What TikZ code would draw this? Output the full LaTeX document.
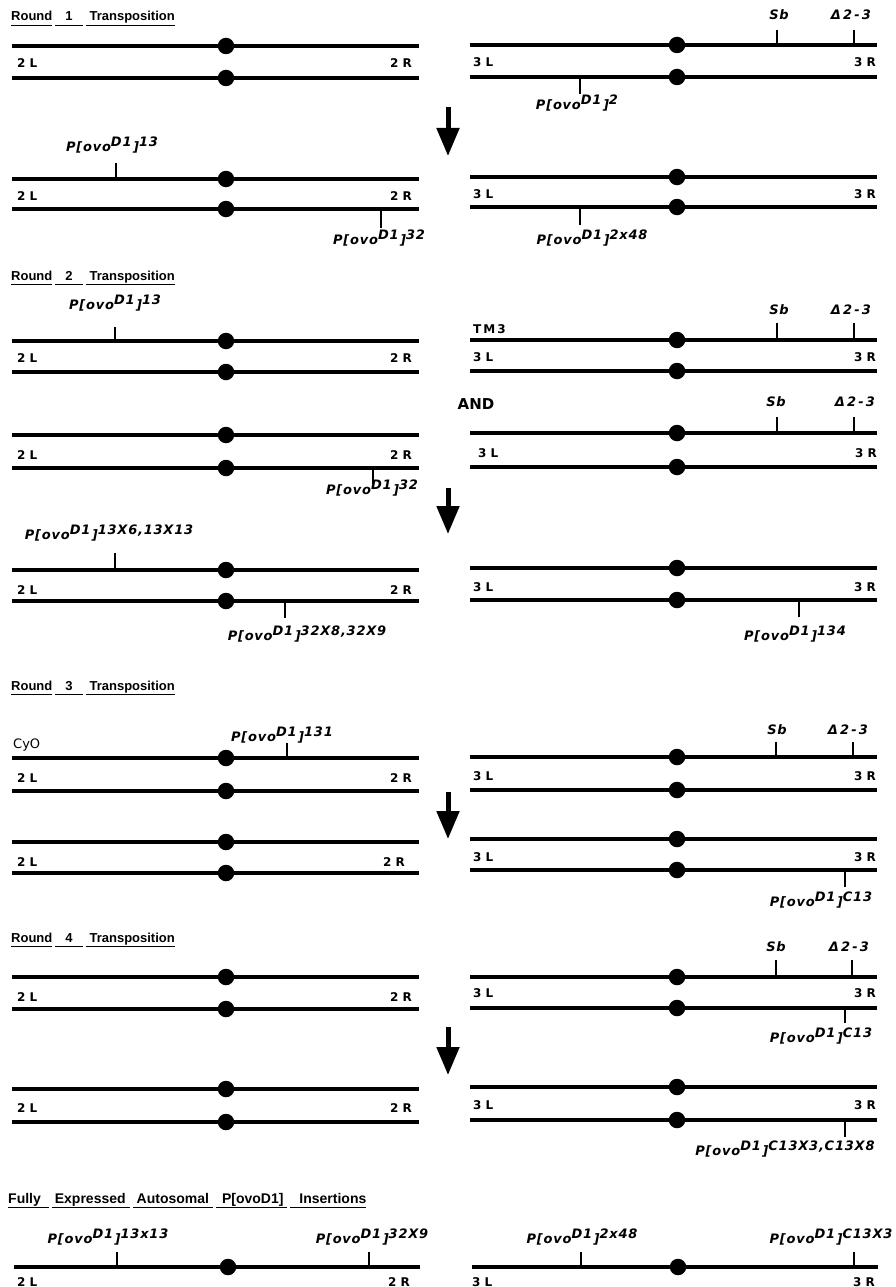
\documentclass[tikz,border=0pt]{standalone}
\usepackage{fontspec}
\usetikzlibrary{arrows.meta}
\newfontfamily\labfont[LetterSpace=6]{DejaVu Sans}
\newfontfamily\chfont{DejaVu Sans}
\newfontfamily\hdfont{Liberation Sans}
\newcommand\pov[1]{P[ovo\raisebox{5pt}{D1}\hspace{1.5pt}]\raisebox{5pt}{#1}}
\newcommand\ul[1]{\underline{\vphantom{Tp}#1}}
\newcommand\chrom[5]{%
  \coordinate (#1-l) at (#2,#5);
  \coordinate (#1-r) at (#3,#5);
  \draw[chr] (#1-l) -- (#1-r);
  \node[cen] (#1-c) at (#4,#5) {};}
\newcommand\mkr[3]{\draw[tk] (#1,#2) -- (#1,#3);}
\tikzset{
  chr/.style={line width=3.1pt},
  cen/.style={circle, fill=black, inner sep=0pt, minimum size=16.5pt},
  tk/.style={line width=2.5pt},
  arm/.style={line width=5pt, -{Triangle[length=28pt,width=22pt]}},
  lab/.style={font=\labfont\fontsize{13}{13}\selectfont\bfseries\itshape, inner sep=0pt},
  gl/.style={font=\chfont\fontsize{12}{12}\selectfont\bfseries, inner sep=0pt},
  hd/.style={font=\hdfont\fontsize{13}{13}\selectfont\bfseries, inner sep=0pt, anchor=base west},
}
\begin{document}
\begin{tikzpicture}[x=1pt,y=-1pt]
\useasboundingbox[fill=white] (0,0) rectangle (895,1287);

% ---------------- Round 1 ----------------
\node[hd] (h1) at (11,21) {\ul{Round}\hspace{3pt}\ul{\hspace{10pt}1\hspace{10pt}}\hspace{3pt}\ul{\hspace{4pt}Transposition}};
\chrom{a1t}{12}{419}{226}{46}
\chrom{a1b}{12}{419}{226}{78}
\node[gl,anchor=west] (a1L) at (17,63) {2 L};
\node[gl,anchor=east] (a1R) at (412,63) {2 R};
\chrom{b1t}{470}{877}{677}{45}
\chrom{b1b}{470}{877}{677}{77}
\node[gl,anchor=west] (b1L) at (473,62) {3 L};
\node[gl,anchor=east] (b1R) at (876,62) {3 R};
\mkr{777}{30}{45}
\mkr{854}{30}{45}
\node[lab] (sb1) at (779,15) {Sb};
\node[lab] (dl1) at (851,15) {Δ\,2\,-\,3};
\mkr{580}{77}{94}
\node[lab,anchor=base] (p1a) at (577,110) {\pov{2}};
\coordinate (ar1s) at (448,107);
\coordinate (ar1e) at (448,156);
\draw[arm] (ar1s) -- (ar1e);

\chrom{a2t}{12}{419}{226}{179}
\chrom{a2b}{12}{419}{226}{209}
\node[gl,anchor=west] (a2L) at (17,196) {2 L};
\node[gl,anchor=east] (a2R) at (412,196) {2 R};
\mkr{116}{163}{179}
\node[lab,anchor=base] (p1b) at (112,151) {\pov{13}};
\mkr{381}{209}{228}
\node[lab,anchor=base] (p1c) at (379,244) {\pov{32}};
\chrom{b2t}{470}{877}{677}{177}
\chrom{b2b}{470}{877}{677}{207}
\node[gl,anchor=west] (b2L) at (473,194) {3 L};
\node[gl,anchor=east] (b2R) at (876,194) {3 R};
\mkr{580}{207}{225}
\node[lab,anchor=base] (p1d) at (592,244) {\pov{2x48}};

% ---------------- Round 2 ----------------
\node[hd] (h2) at (11,280) {\ul{Round}\hspace{3pt}\ul{\hspace{10pt}2\hspace{10pt}}\hspace{3pt}\ul{\hspace{4pt}Transposition}};
\chrom{a3t}{12}{419}{226}{341}
\chrom{a3b}{12}{419}{226}{372}
\node[gl,anchor=west] (a3L) at (17,358) {2 L};
\node[gl,anchor=east] (a3R) at (412,358) {2 R};
\mkr{115}{327}{341}
\node[lab,anchor=base] (p2a) at (115,309) {\pov{13}};
\node[gl,anchor=west] (tm3) at (473,329) {T\,M\,3};
\chrom{b3t}{470}{877}{677}{340}
\chrom{b3b}{470}{877}{677}{371}
\node[gl,anchor=west] (b3L) at (473,357) {3 L};
\node[gl,anchor=east] (b3R) at (876,357) {3 R};
\mkr{777}{323}{340}
\mkr{854}{323}{340}
\node[lab] (sb2) at (779,310) {Sb};
\node[lab] (dl2) at (851,310) {Δ\,2\,-\,3};

\node[font=\chfont\fontsize{15}{15}\selectfont\bfseries, inner sep=0pt] (and) at (476,404) {AND};

\chrom{a4t}{12}{419}{226}{435}
\chrom{a4b}{12}{419}{226}{468}
\node[gl,anchor=west] (a4L) at (17,455) {2 L};
\node[gl,anchor=east] (a4R) at (412,455) {2 R};
\mkr{373}{468}{484}
\node[lab,anchor=base] (p2b) at (372,494) {\pov{32}};
\chrom{b4t}{470}{877}{677}{433}
\chrom{b4b}{470}{877}{677}{467}
\node[gl,anchor=west] (b4L) at (478,453) {3 L};
\node[gl,anchor=east] (b4R) at (877,453) {3 R};
\mkr{777}{417}{433}
\mkr{854}{417}{433}
\node[lab] (sb3) at (776,402) {Sb};
\node[lab] (dl3) at (855,402) {Δ\,2\,-\,3};
\coordinate (ar2s) at (448,488);
\coordinate (ar2e) at (448,534);
\draw[arm] (ar2s) -- (ar2e);

\chrom{a5t}{12}{419}{226}{570}
\chrom{a5b}{12}{419}{226}{601}
\node[gl,anchor=west] (a5L) at (17,590) {2 L};
\node[gl,anchor=east] (a5R) at (412,590) {2 R};
\mkr{115}{553}{570}
\node[lab,anchor=base] (p2c) at (109,539) {\pov{13X6,13X13}};
\mkr{285}{601}{618}
\node[lab,anchor=base] (p2d) at (307,640) {\pov{32X8,32X9}};
\chrom{b5t}{470}{877}{677}{568}
\chrom{b5b}{470}{877}{677}{600}
\node[gl,anchor=west] (b5L) at (473,587) {3 L};
\node[gl,anchor=east] (b5R) at (876,587) {3 R};
\mkr{799}{600}{617}
\node[lab,anchor=base] (p2e) at (795,640) {\pov{134}};

% ---------------- Round 3 ----------------
\node[hd] (h3) at (11,690) {\ul{Round}\hspace{3pt}\ul{\hspace{10pt}3\hspace{10pt}}\hspace{3pt}\ul{\hspace{4pt}Transposition}};
\node[font=\chfont\fontsize{13}{13}\selectfont, inner sep=0pt, anchor=west] (cyo) at (13,745) {CyO};
\chrom{a6t}{12}{419}{226}{758}
\chrom{a6b}{12}{419}{226}{791}
\node[gl,anchor=west] (a6L) at (17,778) {2 L};
\node[gl,anchor=east] (a6R) at (412,778) {2 R};
\mkr{287}{743}{758}
\node[lab,anchor=base] (p3a) at (282,741) {\pov{131}};
\chrom{b6t}{470}{877}{677}{757}
\chrom{b6b}{470}{877}{677}{790}
\node[gl,anchor=west] (b6L) at (473,776) {3 L};
\node[gl,anchor=east] (b6R) at (876,776) {3 R};
\mkr{776}{742}{757}
\mkr{853}{742}{757}
\node[lab] (sb4) at (777,730) {Sb};
\node[lab] (dl4) at (848,730) {Δ\,2\,-\,3};
\coordinate (ar3s) at (448,792);
\coordinate (ar3e) at (448,839);
\draw[arm] (ar3s) -- (ar3e);

\chrom{a7t}{12}{419}{226}{842}
\chrom{a7b}{12}{419}{226}{873}
\node[gl,anchor=west] (a7L) at (17,862) {2 L};
\node[gl,anchor=east] (a7R) at (405,862) {2 R};
\chrom{b7t}{470}{877}{677}{839}
\chrom{b7b}{470}{877}{677}{870}
\node[gl,anchor=west] (b7L) at (473,857) {3 L};
\node[gl,anchor=east] (b7R) at (876,857) {3 R};
\mkr{845}{870}{887}
\node[lab,anchor=base] (p3b) at (821,906) {\pov{C13}};

% ---------------- Round 4 ----------------
\node[hd] (h4) at (11,942) {\ul{Round}\hspace{3pt}\ul{\hspace{10pt}4\hspace{10pt}}\hspace{3pt}\ul{\hspace{4pt}Transposition}};
\chrom{a8t}{12}{419}{226}{977}
\chrom{a8b}{12}{419}{226}{1009}
\node[gl,anchor=west] (a8L) at (17,997) {2 L};
\node[gl,anchor=east] (a8R) at (412,997) {2 R};
\chrom{b8t}{470}{877}{677}{977}
\chrom{b8b}{470}{877}{677}{1008}
\node[gl,anchor=west] (b8L) at (473,993) {3 L};
\node[gl,anchor=east] (b8R) at (876,993) {3 R};
\mkr{776}{960}{977}
\mkr{852}{960}{977}
\node[lab] (sb5) at (776,947) {Sb};
\node[lab] (dl5) at (849,947) {Δ\,2\,-\,3};
\mkr{845}{1008}{1023}
\node[lab,anchor=base] (p4a) at (821,1042) {\pov{C13}};
\coordinate (ar4s) at (448,1027);
\coordinate (ar4e) at (448,1075);
\draw[arm] (ar4s) -- (ar4e);

\chrom{a9t}{12}{419}{226}{1089}
\chrom{a9b}{12}{419}{226}{1122}
\node[gl,anchor=west] (a9L) at (17,1108) {2 L};
\node[gl,anchor=east] (a9R) at (412,1108) {2 R};
\chrom{b9t}{470}{877}{677}{1087}
\chrom{b9b}{470}{877}{677}{1120}
\node[gl,anchor=west] (b9L) at (473,1105) {3 L};
\node[gl,anchor=east] (b9R) at (876,1105) {3 R};
\mkr{845}{1120}{1137}
\node[lab,anchor=base] (p4b) at (785,1155) {\pov{C13X3,C13X8}};

% ---------------- Final ----------------
\node[hd,font=\hdfont\fontsize{14}{14}\selectfont\bfseries] (h5) at (8,1203) {\ul{Fully\hspace{8pt}}\hspace{3pt}\ul{\hspace{3pt}Expressed\hspace{4pt}}\hspace{3pt}\ul{\hspace{4pt}Autosomal\hspace{4pt}}\hspace{3pt}\ul{\hspace{6pt}P[ovoD1]\hspace{4pt}}\hspace{3pt}\ul{\hspace{9pt}Insertions}};
\chrom{af}{14}{420}{228}{1267}
\mkr{117}{1252}{1267}
\mkr{369}{1252}{1267}
\node[lab,anchor=base] (pfa) at (108,1243) {\pov{13x13}};
\node[lab,anchor=base] (pfb) at (372,1243) {\pov{32X9}};
\node[gl,anchor=west] (afL) at (17,1282) {2 L};
\node[gl,anchor=east] (afR) at (410,1282) {2 R};
\chrom{bf}{472}{878}{678}{1267}
\mkr{581}{1252}{1267}
\mkr{854}{1252}{1267}
\node[lab,anchor=base] (pfc) at (582,1243) {\pov{2x48}};
\node[lab,anchor=base] (pfd) at (831,1243) {\pov{C13X3}};
\node[gl,anchor=west] (bfL) at (472,1282) {3 L};
\node[gl,anchor=east] (bfR) at (875,1282) {3 R};
\end{tikzpicture}
\end{document}
